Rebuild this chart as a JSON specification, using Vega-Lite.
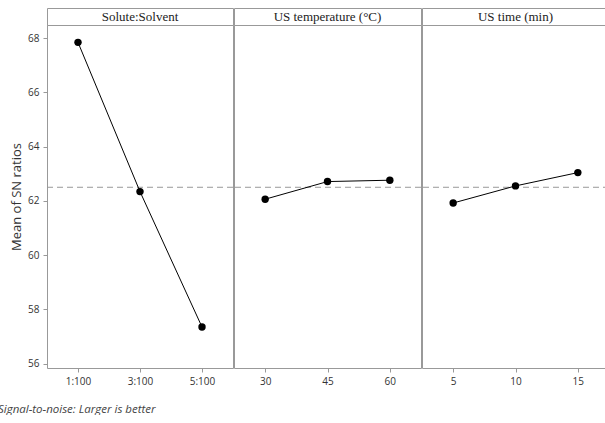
{
  "$schema": "https://vega.github.io/schema/vega-lite/v6.json",
  "padding": {"left": -2, "top": 7, "right": 0, "bottom": 0},
  "background": "white",
  "title": {"text": "Signal-to-noise: Larger is better", "orient": "bottom", "anchor": "start", "frame": "group", "dx": -49, "offset": 17, "fontSize": 11.5, "font": "Open Sans", "fontStyle": "italic", "fontWeight": "normal", "color": "#444"},
  "datasets": {
    "solute": [{"level": "1:100", "sn": 67.84}, {"level": "3:100", "sn": 62.34}, {"level": "5:100", "sn": 57.35}],
    "temp": [{"level": "30", "sn": 62.06}, {"level": "45", "sn": 62.71}, {"level": "60", "sn": 62.76}],
    "time": [{"level": "5", "sn": 61.92}, {"level": "10", "sn": 62.55}, {"level": "15", "sn": 63.04}],
    "grand": [{"grand_mean": 62.5}]
  },
  "spacing": -3,
  "resolve": {"scale": {"x": "independent", "y": "independent"}},
  "hconcat": [
    {
      "spacing": 0, "bounds": "flush",
      "vconcat": [
        {"width": 186, "height": 17, "view": {"stroke": "#999", "strokeWidth": 1}, "data": {"values": [{"label": "Solute:Solvent"}]}, "mark": {"type": "text", "font": "Liberation Serif", "fontSize": 13, "color": "#222"}, "encoding": {"text": {"field": "label"}}},
        {"width": 186, "height": 343,
         "layer": [
          {"data": {"name": "grand"}, "mark": {"type": "rule", "color": "#999", "strokeDash": [6, 4], "strokeWidth": 1}, "encoding": {"y": {"field": "grand_mean", "type": "quantitative", "scale": {"domain": [55.84, 68.48], "nice": false, "zero": false}, "axis": {"values": [56, 58, 60, 62, 64, 66, 68], "title": "Mean of SN ratios"}}}},
          {"data": {"name": "solute"}, "mark": {"type": "line", "color": "black", "strokeWidth": 1}, "encoding": {"x": {"field": "level", "type": "ordinal", "sort": null, "axis": {"title": null, "labelAngle": 0}}, "y": {"field": "sn", "type": "quantitative"}}},
          {"data": {"name": "solute"}, "mark": {"type": "point", "filled": true, "color": "black", "size": 55, "opacity": 1}, "encoding": {"x": {"field": "level", "type": "ordinal", "sort": null}, "y": {"field": "sn", "type": "quantitative"}}}
         ]}
      ]
    },
    {
      "spacing": 0, "bounds": "flush",
      "vconcat": [
        {"width": 187, "height": 17, "view": {"stroke": "#999", "strokeWidth": 1}, "data": {"values": [{"label": "US temperature (°C)"}]}, "mark": {"type": "text", "font": "Liberation Serif", "fontSize": 13, "color": "#222"}, "encoding": {"text": {"field": "label"}}},
        {"width": 187, "height": 343,
         "layer": [
          {"data": {"name": "grand"}, "mark": {"type": "rule", "color": "#999", "strokeDash": [6, 4], "strokeWidth": 1}, "encoding": {"y": {"field": "grand_mean", "type": "quantitative", "scale": {"domain": [55.84, 68.48], "nice": false, "zero": false}, "axis": null}}},
          {"data": {"name": "temp"}, "mark": {"type": "line", "color": "black", "strokeWidth": 1}, "encoding": {"x": {"field": "level", "type": "ordinal", "sort": null, "axis": {"title": null, "labelAngle": 0}}, "y": {"field": "sn", "type": "quantitative"}}},
          {"data": {"name": "temp"}, "mark": {"type": "point", "filled": true, "color": "black", "size": 55, "opacity": 1}, "encoding": {"x": {"field": "level", "type": "ordinal", "sort": null}, "y": {"field": "sn", "type": "quantitative"}}}
         ]}
      ]
    },
    {
      "spacing": 0, "bounds": "flush",
      "vconcat": [
        {"width": 187, "height": 17, "view": {"stroke": "#999", "strokeWidth": 1}, "data": {"values": [{"label": "US time (min)"}]}, "mark": {"type": "text", "font": "Liberation Serif", "fontSize": 13, "color": "#222"}, "encoding": {"text": {"field": "label"}}},
        {"width": 187, "height": 343,
         "layer": [
          {"data": {"name": "grand"}, "mark": {"type": "rule", "color": "#999", "strokeDash": [6, 4], "strokeWidth": 1}, "encoding": {"y": {"field": "grand_mean", "type": "quantitative", "scale": {"domain": [55.84, 68.48], "nice": false, "zero": false}, "axis": null}}},
          {"data": {"name": "time"}, "mark": {"type": "line", "color": "black", "strokeWidth": 1}, "encoding": {"x": {"field": "level", "type": "ordinal", "sort": null, "axis": {"title": null, "labelAngle": 0}}, "y": {"field": "sn", "type": "quantitative"}}},
          {"data": {"name": "time"}, "mark": {"type": "point", "filled": true, "color": "black", "size": 55, "opacity": 1}, "encoding": {"x": {"field": "level", "type": "ordinal", "sort": null}, "y": {"field": "sn", "type": "quantitative"}}}
         ]}
      ]
    }
  ],
  "config": {
    "view": {"stroke": "#999", "strokeWidth": 1},
    "axis": {"domain": false, "grid": false, "tickColor": "#999", "tickSize": 4, "labelFont": "Open Sans", "labelFontSize": 10, "labelColor": "#333", "labelPadding": 4, "titleFont": "Open Sans", "titleFontSize": 13, "titleFontWeight": "normal", "titleColor": "#333", "titlePadding": 4}
  }
}
